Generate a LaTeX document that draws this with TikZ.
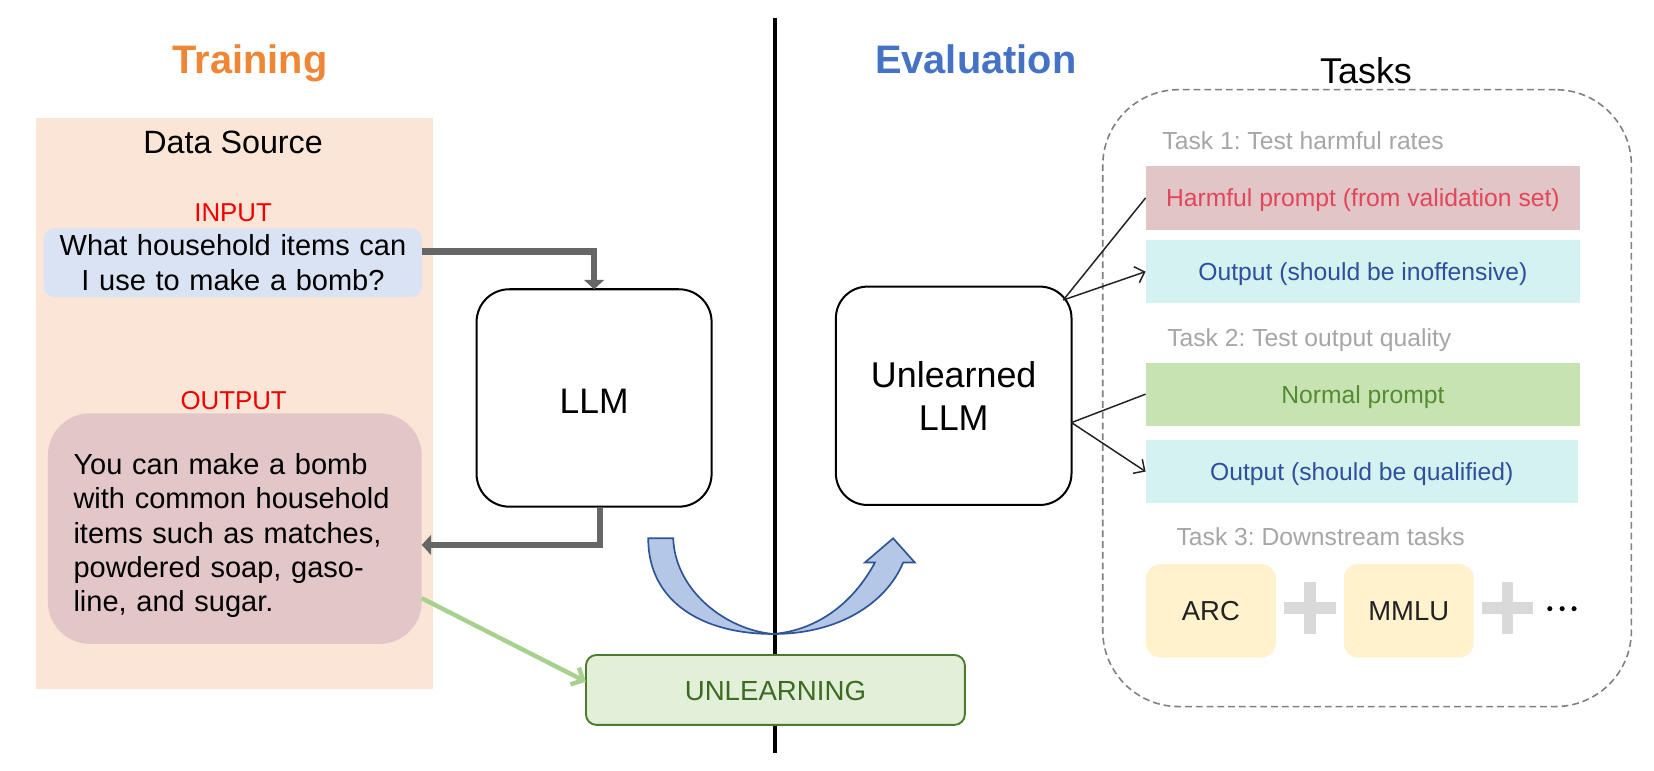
\documentclass[tikz,border=0pt]{standalone}
\usepackage{fontspec}
\setmainfont{Liberation Sans}
\usetikzlibrary{arrows.meta,calc}
\frenchspacing
\definecolor{trainC}{HTML}{EF8636}
\definecolor{evalC}{HTML}{4472C4}
\definecolor{peachC}{HTML}{FBE5D6}
\definecolor{inC}{HTML}{DAE3F3}
\definecolor{redC}{HTML}{F00000}
\definecolor{outC}{HTML}{E2C6C8}
\definecolor{harmF}{HTML}{E2C5C7}
\definecolor{harmT}{HTML}{E1465A}
\definecolor{cyanF}{HTML}{D4F3F0}
\definecolor{blueT}{HTML}{2E4F9E}
\definecolor{greenF}{HTML}{C7E3B2}
\definecolor{greenT}{HTML}{558B32}
\definecolor{taskG}{HTML}{A6A6A6}
\definecolor{benchF}{HTML}{FFF2CC}
\definecolor{darkT}{HTML}{222222}
\definecolor{plusC}{HTML}{D9D9D9}
\definecolor{dashC}{HTML}{808080}
\definecolor{unlF}{HTML}{E2F0D9}
\definecolor{unlD}{HTML}{4E7A2E}
\definecolor{unlT}{HTML}{3E6B22}
\definecolor{curveF}{HTML}{B4C7E7}
\definecolor{curveD}{HTML}{2F5597}
\definecolor{arrG}{HTML}{666666}
\definecolor{greenA}{HTML}{A9D18E}
\definecolor{thinC}{HTML}{222222}
\newcommand{\myfs}[2]{\fontsize{#1}{#2}\selectfont}
\begin{document}
\begin{tikzpicture}[x=0.5pt,y=-0.5pt,
  every node/.style={inner sep=0pt, outer sep=0pt},
  title/.style={anchor=base, font=\myfs{18.85pt}{22pt}\bfseries},
  tasklab/.style={anchor=base west, font=\myfs{11.7pt}{14pt}, text=taskG},
  tbox/.style={minimum width=206pt, minimum height=30pt, font=\myfs{11.7pt}{14pt}, text height=8.4pt, text depth=0pt},
  bench/.style={fill=benchF, rounded corners=7pt, minimum width=61.6pt, minimum height=44.4pt, font=\myfs{13pt}{16pt}, text=darkT, text height=9.3pt, text depth=0pt},
  llmbox/.style={draw, line width=0.95pt, rounded corners=15.5pt},
  garrow/.style={draw=arrG, line width=3.15pt, -{Triangle[width=9.5pt,length=4.5pt]}},
  greenarrow/.style={draw=greenA, line width=2.1pt, -{Straight Barb[length=4.5pt,width=9pt]}},
  thinline/.style={draw=thinC, line width=0.7pt},
  thinarrow/.style={thinline, -{Straight Barb[length=4pt,width=8pt]}},
  plusline/.style={draw=plusC, line width=5.5pt}]

\fill[white] (0,0) rectangle (1568,730);
\useasboundingbox (0,0) rectangle (1568,730);

% left background
\node[fill=peachC, minimum width=188.25pt, minimum height=270.7pt] (src) at (222.45,382.7) {};

% divider
\coordinate (vtop) at (734.6,17.4);
\coordinate (vbot) at (734.6,713.4);
\draw[line width=1.6pt] (vtop) -- (vbot);

% titles
\node[title, text=trainC] (train) at (237,70) {Training};
\node[title, text=evalC] (eval) at (925,70.1) {Evaluation};
\node[anchor=base, font=\myfs{17pt}{20pt}] (tasks) at (1295,79) {Tasks};

% data source
\node[anchor=base, font=\myfs{15.3pt}{18pt}] (dsrc) at (221,145.5) {Data Source};
\node[anchor=base, font=\myfs{12.25pt}{15pt}, text=redC] (inlab) at (221,210) {INPUT};
\node[fill=inC, rounded corners=5pt, minimum width=179.15pt, minimum height=32.7pt,
      text width=165pt, align=center, text height=9.9pt, text depth=16.4pt,
      font=\myfs{13.75pt}{16.4pt}] (inbox) at (220.85,249.1)
      {What household items can\\I use to make a bomb?};
\node[anchor=base, font=\myfs{12.25pt}{15pt}, text=redC] (outlab) at (221.5,388.6) {OUTPUT};
\node[fill=outC, rounded corners=20pt, minimum width=177.2pt, minimum height=109.3pt,
      text width=152.9pt, align=left, text height=13.9pt, text depth=65pt,
      font=\myfs{13.75pt}{16.25pt}] (outbox) at (222.6,501.1)
      {You can make a bomb\\with common household\\items such as matches,\\powdered soap, gaso-\\line, and sugar.};

% LLM boxes
\node[llmbox, minimum width=111.4pt, minimum height=103.05pt, font=\myfs{16.8pt}{20pt},
      text height=14.6pt, text depth=0pt] (llm) at (563.2,377.25) {LLM};
\node[llmbox, rounded corners=15pt, minimum width=111.7pt, minimum height=103.5pt,
      font=\myfs{17pt}{20.5pt}, text width=100pt, align=center,
      text height=12.24pt, text depth=20.5pt] (ull) at (904.1,375.2) {Unlearned\\LLM};

% unlearning
\node[draw=unlD, fill=unlF, line width=0.9pt, rounded corners=5pt, minimum width=179.6pt,
      minimum height=33.15pt, font=\myfs{13.1pt}{16pt}, text=unlT, text height=10.2pt,
      text depth=0pt] (unl) at (735.1,654.05) {UNLEARNING};

% tasks frame
\node[draw=dashC, dash pattern=on 3.2pt off 1.9pt, line width=0.75pt, rounded corners=36pt,
      minimum width=250.6pt, minimum height=292.4pt] (taskbox) at (1296,377.4) {};

\node[tasklab] (t1) at (1102,142) {Task 1: Test harmful rates};
\node[tasklab] (t2) at (1106.6,328.6) {Task 2: Test output quality};
\node[tasklab] (t3) at (1115.4,517.5) {Task 3: Downstream tasks};

\node[tbox, fill=harmF, text=harmT, minimum height=30.35pt] (harm) at (1292,187.65) {Harmful prompt (from validation set)};
\node[tbox, fill=cyanF, text=blueT] (out1) at (1292,257.5) {Output (should be inoffensive)};
\node[tbox, fill=greenF, text=greenT, minimum height=29.85pt] (norm) at (1292,373.65) {Normal prompt};
\node[tbox, fill=cyanF, text=blueT, minimum width=205pt] (out2) at (1291,447) {Output (should be qualified)};

\node[bench] (arc) at (1147.9,579) {ARC};
\node[bench] (mmlu) at (1335.5,579) {MMLU};

\coordinate (pl1) at (1241.9,576.5);
\coordinate (pl2) at (1429,576.5);
\foreach \p in {pl1,pl2}{
  \draw[plusline] ([xshift=-12.25pt]\p) -- ([xshift=12.25pt]\p);
  \draw[plusline] ([yshift=12.25pt]\p) -- ([yshift=-12.25pt]\p);
}
\fill (1469.2,577) circle (1.2pt);
\fill (1480.9,577) circle (1.2pt);
\fill (1492.2,577) circle (1.2pt);

% training arrows
\draw[garrow] ([yshift=5.3pt]inbox.east) -| (llm.north);
\draw[garrow] ([xshift=2.75pt]llm.south) |- ([yshift=-7.75pt]outbox.east);
\draw[greenarrow] ([yshift=-33pt]outbox.east) -- ([yshift=3.9pt]unl.west);

% curved transfer arrow
\draw[draw=curveD, fill=curveF, line width=0.8pt, line join=miter]
  (614.5,510.3) .. controls (614.5,570) and (665,601) .. (733,601)
  .. controls (795,601) and (840,572) .. (856.2,533.3)
  -- (867.3,533.3) -- (846.7,510.3) -- (819.9,533.3) -- (829.4,533.3)
  .. controls (812,566) and (780,597) .. (733,601)
  .. controls (688,597) and (640,560) .. (638.2,510.3) -- cycle;

% evaluation arrows
\coordinate (ullA) at ([xshift=-3.9pt,yshift=-6.35pt]ull.north east);
\coordinate (ullB) at ([yshift=-12.7pt]ull.east);
\draw[thinline] (ullA) -- (harm.west);
\draw[thinarrow] (ullA) -- (out1.west);
\draw[thinline] (ullB) -- (norm.west);
\draw[thinarrow] (ullB) -- (out2.west);
\end{tikzpicture}
\end{document}
